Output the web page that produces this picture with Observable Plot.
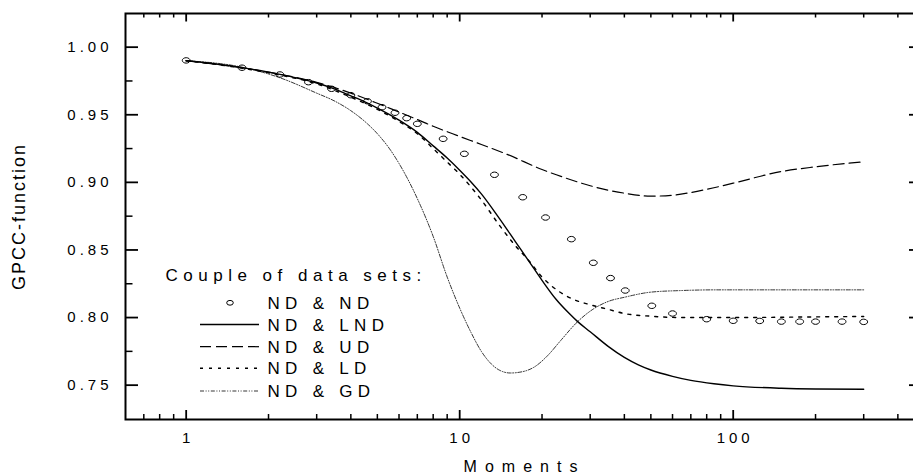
<!DOCTYPE html>
<html>
<head>
<meta charset="utf-8">
<script src="https://cdn.jsdelivr.net/npm/d3@7"></script>
<script src="https://cdn.jsdelivr.net/npm/@observablehq/plot@0.6"></script>
<style>
html, body { margin: 0; padding: 0; background: #fff; overflow: hidden; }
#wrap { position: relative; width: 913px; height: 476px; overflow: hidden; font-family: "Liberation Sans", Arial, Helvetica, sans-serif; }
#wrap svg.plotsvg { max-width: none !important; display: block; }
#legend { position: absolute; left: 0; top: 0; pointer-events: none; }
g[aria-label="y-axis tick label"] text, g[aria-label="x-axis tick label"] text { letter-spacing: 4px; }
</style>
</head>
<body>
<div id="wrap"></div>
<script>
// ---------- data ----------
const xMajorTicks = [1, 10, 100];
const xMinorTicks = [0.7, 0.8, 0.9, 2, 3, 4, 5, 6, 7, 8, 9, 20, 30, 40, 50, 60, 70, 80, 90, 200, 300, 400];
const yMajorTicks = [0.75, 0.80, 0.85, 0.90, 0.95, 1.00];
const yMinorTicks = [0.775, 0.825, 0.875, 0.925, 0.975];

const seriesNames = ["ND & ND", "ND & LND", "ND & UD", "ND & LD", "ND & GD"];
const legendTitle = "Couple of data sets:";
const xLabel = "Moments";
const yLabel = "GPCC-function";

// ND & ND (circles)
const ndX = [1, 1.6, 2.2, 2.8, 3.4, 4, 4.6, 5.2, 5.8, 6.4, 7, 8.7, 10.4, 13.4, 17, 20.6, 25.6, 30.8, 35.6, 40.3, 50.4, 60, 80, 100, 125, 150, 175, 200, 250, 300];
const ndY = [0.9902, 0.9848, 0.9798, 0.9741, 0.9692, 0.9645, 0.9600, 0.9556, 0.9515, 0.9475, 0.9433, 0.9322, 0.9211, 0.9056, 0.889, 0.874, 0.858, 0.8405, 0.8292, 0.820, 0.8087, 0.803, 0.7988, 0.7976, 0.7975, 0.797, 0.797, 0.797, 0.797, 0.7968];

// ND & LND (solid)
const lndX = [1, 1.5, 2, 2.5, 3, 3.5, 4, 4.5, 5, 5.5, 6, 7, 8, 9, 10, 11, 12, 14, 16, 18, 20, 22.5, 25, 27, 30, 35, 40, 45, 50, 60, 70, 85, 100, 150, 200, 300];
const lndY = [0.990, 0.9858, 0.9815, 0.9775, 0.9735, 0.969, 0.964, 0.9595, 0.955, 0.9505, 0.946, 0.937, 0.927, 0.918, 0.909, 0.9003, 0.8915, 0.873, 0.856, 0.841, 0.8275, 0.8135, 0.8035, 0.797, 0.7895, 0.7785, 0.7705, 0.765, 0.7612, 0.7565, 0.7535, 0.751, 0.7495, 0.7477, 0.7472, 0.747];

// ND & UD (dashed)
const udX = [1, 2, 3, 4, 5, 6, 7, 8, 10, 12, 15, 20, 25, 30, 40, 50, 60, 70, 85, 100, 150, 200, 250, 300];
const udY = [0.990, 0.9815, 0.974, 0.966, 0.9585, 0.952, 0.9465, 0.9415, 0.934, 0.928, 0.9205, 0.9095, 0.9025, 0.8975, 0.892, 0.8898, 0.8905, 0.8925, 0.896, 0.8994, 0.908, 0.9115, 0.9137, 0.9152];

// ND & LD (dotted)
const ldX = [1, 2, 3, 4, 5, 6, 7, 8, 9, 10, 12, 14, 16, 18, 20, 23, 26, 30, 35, 40, 50, 65, 100, 200, 300];
const ldY = [0.990, 0.981, 0.9728, 0.963, 0.954, 0.945, 0.936, 0.925, 0.915, 0.906, 0.887, 0.868, 0.853, 0.8415, 0.830, 0.8195, 0.8135, 0.8095, 0.806, 0.803, 0.801, 0.800, 0.800, 0.8005, 0.8008];

// ND & GD (dash-dot-dot)
const gdX = [1, 1.6, 2.2, 3, 3.5, 4, 4.6, 5, 5.6, 6, 7, 8, 9, 10, 11, 12, 13, 14, 15.3, 17, 18.7, 21, 23.4, 27, 30.9, 35, 40, 50, 65, 87, 150, 300];
const gdY = [0.990, 0.9852, 0.9774, 0.966, 0.960, 0.953, 0.9433, 0.936, 0.9235, 0.914, 0.888, 0.860, 0.830, 0.807, 0.789, 0.775, 0.766, 0.761, 0.759, 0.760, 0.7633, 0.772, 0.783, 0.797, 0.8065, 0.812, 0.815, 0.8188, 0.820, 0.8205, 0.8205, 0.8205];

// ---------- layout / styles ----------
const W = 915, H = 476, mL = 125, mR = 0, mT = 13, mB = 57;
const pw = W - mL - mR, ph = H - mT - mB;
const FONT = '"Liberation Sans", Arial, Helvetica, sans-serif';

const lineStyles = {
  "ND & LND": {stroke: "#000", strokeWidth: 1.4, dash: null},
  "ND & UD":  {stroke: "#000", strokeWidth: 1.2, dash: "11,5"},
  "ND & LD":  {stroke: "#000", strokeWidth: 1.4, dash: "3,6"},
  "ND & GD":  {stroke: "#111", strokeWidth: 0.85, dash: "4,1.6,1,1.6,1,1.6"}
};

const rows = (xs, ys) => xs.map((x, i) => ({x, y: ys[i]}));

// slightly flattened circle symbol
const ellipse = {
  draw(ctx, size) {
    const r = Math.sqrt(size / Math.PI);
    const rx = r * 1.15, ry = r * 0.8, k = 0.5523;
    ctx.moveTo(rx, 0);
    ctx.bezierCurveTo(rx, ry * k, rx * k, ry, 0, ry);
    ctx.bezierCurveTo(-rx * k, ry, -rx, ry * k, -rx, 0);
    ctx.bezierCurveTo(-rx, -ry * k, -rx * k, -ry, 0, -ry);
    ctx.bezierCurveTo(rx * k, -ry, rx, -ry * k, rx, 0);
    ctx.closePath();
  }
};

const lineMark = (xs, ys, name) => {
  const s = lineStyles[name];
  return Plot.line(rows(xs, ys), {x: "x", y: "y", stroke: s.stroke, strokeWidth: s.strokeWidth,
    strokeDasharray: s.dash ?? undefined, curve: "monotone-x"});
};

const chart = Plot.plot({
  width: W, height: H,
  marginLeft: mL, marginRight: mR, marginTop: mT, marginBottom: mB,
  style: {fontFamily: FONT, background: "white", color: "black"},
  x: {type: "log", domain: [0.6, 464]},
  y: {domain: [0.7246, 1.0249]},
  marks: [
    lineMark(gdX, gdY, "ND & GD"),
    lineMark(ldX, ldY, "ND & LD"),
    lineMark(udX, udY, "ND & UD"),
    lineMark(lndX, lndY, "ND & LND"),
    Plot.dot(rows(ndX, ndY), {x: "x", y: "y", r: 3.4, symbol: ellipse, stroke: "#000", strokeWidth: 1, fill: "none"}),

    // frame
    Plot.frame({stroke: "#000", strokeWidth: 2}),

    // inward ticks: left
    Plot.tickY(yMajorTicks, {y: d => d, stroke: "#000", strokeWidth: 1.8, insetRight: pw - 13}),
    Plot.tickY(yMinorTicks, {y: d => d, stroke: "#000", strokeWidth: 1.5, insetRight: pw - 7.5}),
    // right
    Plot.tickY(yMajorTicks, {y: d => d, stroke: "#000", strokeWidth: 1.8, insetLeft: pw - 6}),
    // top
    Plot.tickX(xMajorTicks, {x: d => d, stroke: "#000", strokeWidth: 1.8, insetBottom: ph - 8.5}),
    Plot.tickX(xMinorTicks, {x: d => d, stroke: "#000", strokeWidth: 1.5, insetBottom: ph - 4.5}),
    // bottom
    Plot.tickX(xMajorTicks, {x: d => d, stroke: "#000", strokeWidth: 1.8, insetTop: ph - 9}),
    Plot.tickX(xMinorTicks, {x: d => d, stroke: "#000", strokeWidth: 1.5, insetTop: ph - 5}),

    // tick labels
    Plot.axisY(yMajorTicks, {tickSize: 0, tickPadding: 13, tickFormat: d3.format(".2f"), fontSize: 15, label: null}),
    Plot.axisX(xMajorTicks, {tickSize: 0, tickPadding: 13, tickFormat: d => String(d), fontSize: 15, label: null, dx: 2}),

    // axis titles
    Plot.text([yLabel], {frameAnchor: "left", rotate: -90, dx: -106.5, text: d => d, fontSize: 18, lineAnchor: "middle", textAnchor: "middle"}),
    Plot.text([xLabel], {frameAnchor: "bottom", dy: 47, dx: 4, text: d => d, fontSize: 16, lineAnchor: "middle", textAnchor: "middle"})
  ]
});
chart.classList.add("plotsvg");
chart.style.maxWidth = "none";
document.getElementById("wrap").appendChild(chart);

// letter spacing of axis titles
d3.select(chart).selectAll("text").filter(function () { return this.textContent === xLabel; }).style("letter-spacing", "8px");
d3.select(chart).selectAll("text").filter(function () { return this.textContent === yLabel; }).style("letter-spacing", "2px");

// ---------- legend (inside the frame) ----------
const leg = d3.select("#wrap").append("svg").attr("id", "legend").attr("width", 913).attr("height", 476)
  .style("font-family", FONT);
leg.append("text").attr("x", 165.5).attr("y", 280.5).attr("font-size", 17).style("letter-spacing", "5.5px").text(legendTitle);
const rowBase = [308.8, 330.5, 352.7, 374.3, 397];
const sampleX0 = 200, sampleX1 = 259, textX = 267.5;
seriesNames.forEach((name, i) => {
  const yb = rowBase[i], yc = yb - 6;
  if (i === 0) {
    const r = 3.0;
    leg.append("ellipse").attr("cx", 230).attr("cy", yc).attr("rx", r * 1.1).attr("ry", r * 0.8)
      .attr("fill", "none").attr("stroke", "#000").attr("stroke-width", 1);
  } else {
    const s = lineStyles[name];
    leg.append("line").attr("x1", sampleX0).attr("x2", sampleX1).attr("y1", yc).attr("y2", yc)
      .attr("stroke", s.stroke).attr("stroke-width", s.strokeWidth)
      .attr("stroke-dasharray", s.dash);
  }
  leg.append("text").attr("x", textX).attr("y", yb).attr("font-size", 17).style("letter-spacing", "5.3px").text(name);
});
</script>
</body>
</html>
